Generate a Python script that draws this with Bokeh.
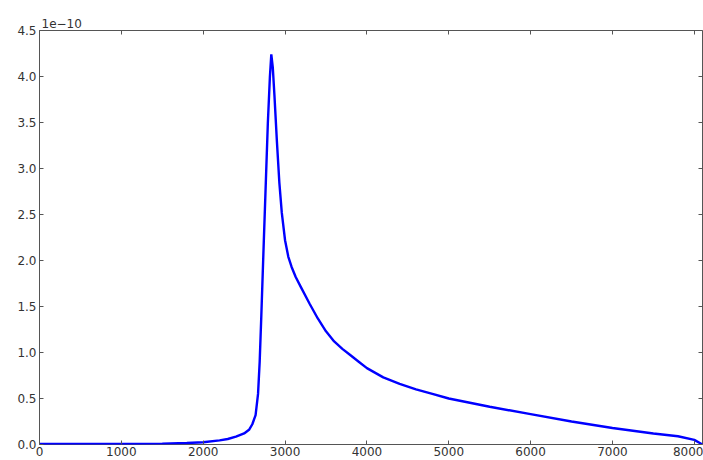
from bokeh.plotting import figure
from bokeh.models import LinearAxis, FixedTicker, NumeralTickFormatter, Range1d
from bokeh.embed import file_html
from bokeh.resources import INLINE

# Signal (values in units of 1e-10)
x_vals = [0, 500, 1000, 1500, 1800, 2000, 2200, 2300, 2400, 2500, 2560, 2600, 2640,
          2670, 2690, 2710, 2740, 2765, 2790, 2815, 2832,
          2850, 2870, 2900, 2930, 2960, 3000, 3040, 3080, 3130, 3200, 3300, 3400, 3500,
          3600, 3700, 3800, 3900, 4000, 4200, 4400, 4600, 4800, 5000, 5500, 6000,
          6500, 7000, 7500, 7800, 8000, 8100]
y_vals = [0.005, 0.005, 0.006, 0.010, 0.017, 0.025, 0.045, 0.060, 0.085, 0.12, 0.16, 0.22, 0.32,
          0.55, 0.90, 1.40, 2.20, 2.85, 3.50, 4.00, 4.24,
          4.10, 3.80, 3.30, 2.85, 2.52, 2.22, 2.04, 1.93, 1.82, 1.70, 1.53, 1.37, 1.23,
          1.12, 1.04, 0.97, 0.90, 0.83, 0.73, 0.66, 0.60, 0.55, 0.50, 0.41, 0.33,
          0.25, 0.18, 0.12, 0.09, 0.05, 0.0]

x_ticks = [0, 1000, 2000, 3000, 4000, 5000, 6000, 7000, 8000]
y_ticks = [0.0, 0.5, 1.0, 1.5, 2.0, 2.5, 3.0, 3.5, 4.0, 4.5]
offset_label = "1e\u221210"

FONT = "DejaVu Sans"
TXT = "#333333"

p = figure(width=703, height=460, output_backend="svg", toolbar_location=None,
           x_range=Range1d(0, 8100), y_range=Range1d(0, 4.5),
           min_border_left=39, min_border_top=30, min_border_right=1, min_border_bottom=16)

p.line(x_vals, y_vals, line_color="#0000ff", line_width=2.4)

p.grid.visible = False
p.outline_line_color = "#555555"
p.outline_line_width = 1
p.background_fill_color = "white"
p.border_fill_color = "white"

p.title.text = offset_label
p.title.align = "left"
p.title.text_font = FONT
p.title.text_font_size = "12px"
p.title.text_font_style = "normal"
p.title.text_color = TXT
p.title.standoff = 6
p.title.offset = 2

def style(ax, labels=True):
    ax.axis_line_color = None
    ax.major_tick_in = 4
    ax.major_tick_out = 0
    ax.major_tick_line_color = "#555555"
    ax.minor_tick_line_color = None
    ax.major_label_text_font = FONT
    ax.major_label_text_color = TXT
    ax.major_label_text_font_size = "12px"
    if labels:
        ax.major_label_standoff = 3
    else:
        ax.major_label_standoff = 0

p.xaxis.ticker = FixedTicker(ticks=x_ticks)
p.yaxis.ticker = FixedTicker(ticks=y_ticks)
p.yaxis.formatter = NumeralTickFormatter(format="0.0")
p.xaxis.formatter = NumeralTickFormatter(format="0")
style(p.xaxis[0])
style(p.yaxis[0])
p.xaxis[0].major_label_standoff = 2

top = LinearAxis(ticker=FixedTicker(ticks=x_ticks),
                 major_label_overrides={t: "" for t in x_ticks})
right = LinearAxis(ticker=FixedTicker(ticks=y_ticks),
                   major_label_overrides={t: "" for t in y_ticks})
style(top, labels=False)
style(right, labels=False)
p.add_layout(top, "above")
p.add_layout(right, "right")

open("out.html", "w").write(file_html(p, INLINE))
